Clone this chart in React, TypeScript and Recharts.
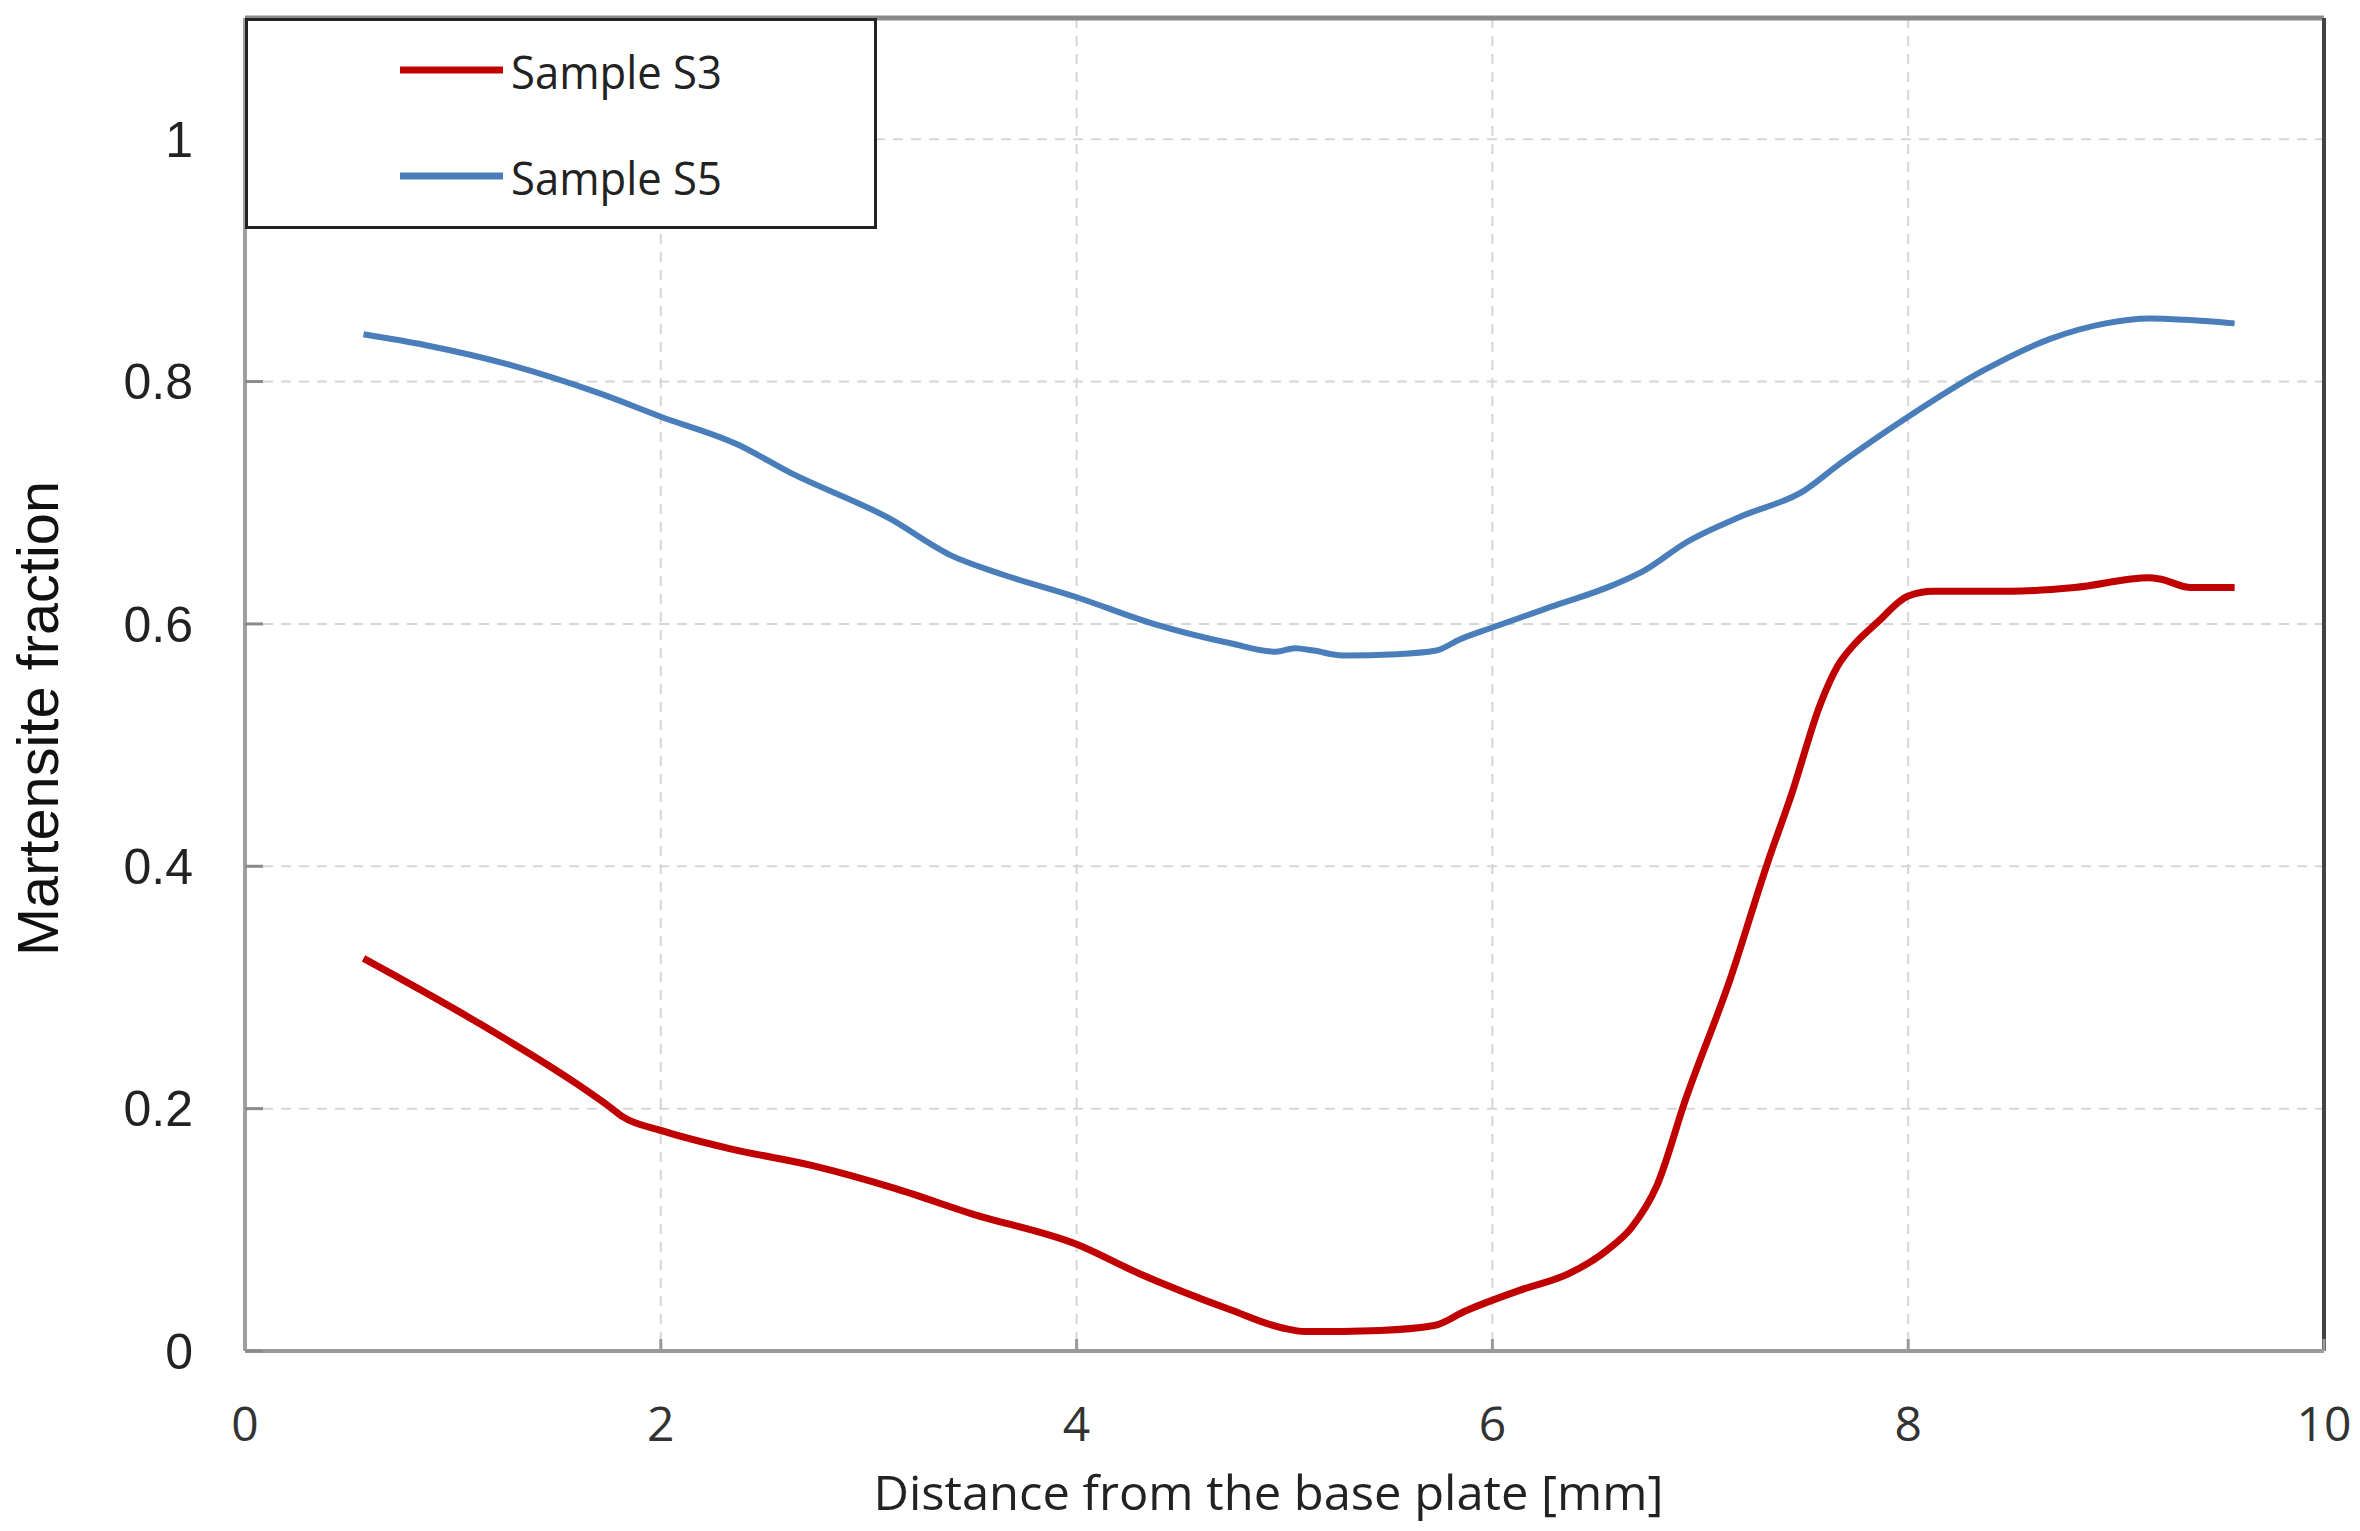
import React from "react";
import { LineChart, Line, XAxis, YAxis, CartesianGrid, Legend, ReferenceLine } from "recharts";

const xS3 = [0.57, 1.09, 1.6, 1.75, 1.82, 2.0, 2.33, 2.73, 3.13, 3.5, 4.0, 4.3, 4.74, 4.99, 5.1, 5.46, 5.72, 5.87, 6.13, 6.37, 6.55, 6.67, 6.79, 6.93, 7.14, 7.32, 7.44, 7.58, 7.66, 7.74, 7.85, 8.0, 8.12, 8.5, 8.8, 9.16, 9.21, 9.36, 9.57];
const yS3 = [0.324, 0.274, 0.22, 0.202, 0.193, 0.182, 0.167, 0.153, 0.134, 0.113, 0.088, 0.064, 0.034, 0.019, 0.016, 0.017, 0.021, 0.033, 0.05, 0.064, 0.083, 0.102, 0.136, 0.208, 0.305, 0.401, 0.46, 0.535, 0.565, 0.583, 0.601, 0.623, 0.627, 0.627, 0.63, 0.638, 0.637, 0.63, 0.63];

const xS5 = [0.57, 0.87, 1.27, 1.71, 2.0, 2.37, 2.62, 3.1, 3.39, 3.64, 4.0, 4.37, 4.74, 4.96, 5.05, 5.14, 5.28, 5.54, 5.73, 5.84, 6.0, 6.28, 6.58, 6.73, 6.93, 7.2, 7.5, 7.67, 8.0, 8.36, 8.68, 8.95, 9.16, 9.33, 9.57];
const yS5 = [0.839, 0.83, 0.814, 0.79, 0.771, 0.748, 0.725, 0.687, 0.657, 0.641, 0.622, 0.6, 0.584, 0.577, 0.58, 0.578, 0.574, 0.575, 0.578, 0.587, 0.597, 0.614, 0.632, 0.644, 0.667, 0.689, 0.71, 0.732, 0.771, 0.809, 0.835, 0.848, 0.852, 0.851, 0.848];

const xTicks = [0, 2, 4, 6, 8, 10];
const yTicks = [0, 0.2, 0.4, 0.6, 0.8, 1];
const seriesNames = ["Sample S3", "Sample S5"];
const xTitle = "Distance from the base plate [mm]";
const yTitle = "Martensite fraction";

const dataS3 = xS3.map((x, i) => ({ x, y: yS3[i] }));
const dataS5 = xS5.map((x, i) => ({ x, y: yS5[i] }));

const RED = "#C00000";
const BLUE = "#4A7EBB";

const YTitle = (props: any) => {
  const vb = props.viewBox || { x: 0, y: 0, width: 0, height: 0 };
  const cx = vb.x + 50;
  const cy = vb.y + vb.height / 2 + 34;
  return (
    <text
      x={cx}
      y={cy}
      transform={`rotate(-90 ${cx} ${cy})`}
      textAnchor="middle"
      fontFamily="'Liberation Sans', Arial, sans-serif"
      fontSize={57}
      fill="#111"
      textLength={475}
      lengthAdjust="spacingAndGlyphs"
    >
      {yTitle}
    </text>
  );
};

const XTitle = (props: any) => {
  const vb = props.viewBox || { x: 0, y: 0, width: 0, height: 0 };
  const cx = vb.x + vb.width / 2 - 16;
  const cy = vb.y + 159;
  return (
    <text
      x={cx}
      y={cy}
      textAnchor="middle"
      fontFamily="'Open Sans', sans-serif"
      fontSize={48}
      fill="#222"
      textLength={790}
      lengthAdjust="spacingAndGlyphs"
    >
      {xTitle}
    </text>
  );
};

const LegendBox = (props: any) => {
  const payload = props.payload || [];
  return (
    <svg width={626} height={205} style={{ display: "block" }}>
      {payload.map((p: any, i: number) => {
        const ly = 49 + i * 106;
        return (
          <g key={i}>
            <line x1={152} x2={255} y1={ly} y2={ly} stroke={p.color} strokeWidth={7} />
            <text
              x={263}
              y={ly + 19}
              fontFamily="'Open Sans', sans-serif"
              fontSize={46}
              fill="#222"
              textLength={211}
              lengthAdjust="spacingAndGlyphs"
            >
              {p.value}
            </text>
          </g>
        );
      })}
    </svg>
  );
};

export default function App() {
  return (
    <div style={{ width: 2344, height: 1515, background: "#fff" }}>
      <LineChart width={2344} height={1515} margin={{ top: 10, right: 28, left: 0, bottom: 0 }}>
        <CartesianGrid stroke="#d6d6d6" strokeWidth={2} strokeDasharray="10 8" />
        <XAxis
          type="number"
          dataKey="x"
          domain={[0, 10]}
          ticks={xTicks}
          allowDataOverflow
          height={172}
          axisLine={{ stroke: "#9a9a9a", strokeWidth: 4 }}
          tickLine={{ stroke: "#9a9a9a", strokeWidth: 3 }}
          tickSize={-12}
          tickMargin={68}
          tick={{ fontFamily: "'Open Sans', sans-serif", fontSize: 48, fill: "#333" }}
          label={XTitle}
        />
        <YAxis
          type="number"
          domain={[0, 1.1]}
          ticks={yTicks}
          allowDataOverflow
          width={237}
          axisLine={{ stroke: "#a0a0a0", strokeWidth: 4 }}
          tickLine={{ stroke: "#8a8a8a", strokeWidth: 3 }}
          tickSize={-18}
          tickMargin={70}
          tick={{ fontFamily: "'Liberation Sans', Arial, sans-serif", fontSize: 50, fill: "#222" }}
          label={YTitle}
        />
        <ReferenceLine y={1.1} stroke="#8a8a8a" strokeWidth={5} />
        <ReferenceLine x={10} stroke="#444" strokeWidth={4} />
        <Legend
          layout="horizontal"
          verticalAlign="middle"
          align="center"
          content={LegendBox}
          wrapperStyle={{
            left: 237,
            top: 10,
            width: 632,
            height: 211,
            border: "3px solid #222",
            boxSizing: "border-box",
            background: "#fff",
          }}
        />
        <Line
          data={dataS3}
          dataKey="y"
          name={seriesNames[0]}
          type="monotone"
          stroke={RED}
          strokeWidth={7}
          dot={false}
          activeDot={false}
          isAnimationActive={false}
        />
        <Line
          data={dataS5}
          dataKey="y"
          name={seriesNames[1]}
          type="monotone"
          stroke={BLUE}
          strokeWidth={6}
          dot={false}
          activeDot={false}
          isAnimationActive={false}
        />
      </LineChart>
    </div>
  );
}
